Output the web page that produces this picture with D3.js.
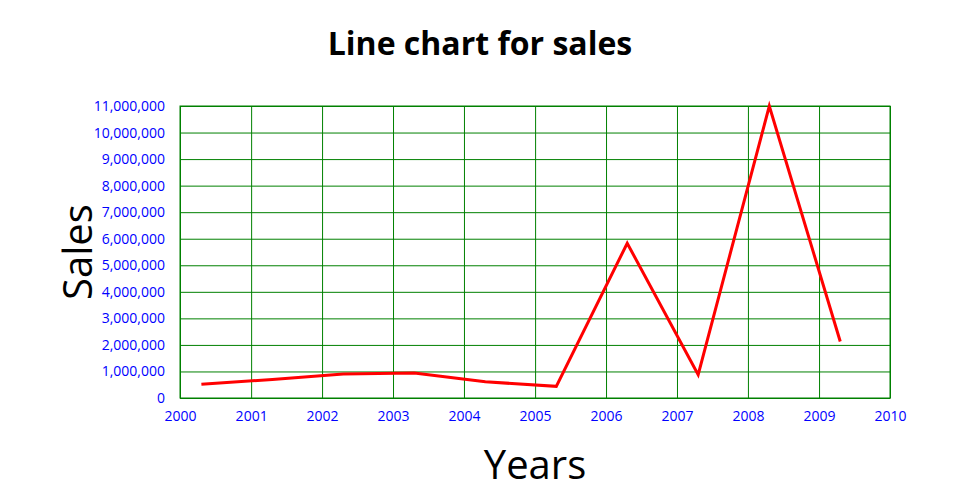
<!DOCTYPE html>
<html>
<head>
<meta charset="utf-8">
<script src="https://cdn.jsdelivr.net/npm/d3@7"></script>
<style>
  body { margin: 0; background: #fff; }
  svg { font-family: "Open Sans", sans-serif; }
</style>
</head>
<body>
<svg id="chart" width="960" height="500"></svg>
<script>
const dates = ["2000-04-20","2001-04-20","2002-04-20","2003-04-20","2004-04-20","2005-04-20","2006-04-20","2007-04-20","2008-04-20","2009-04-20"];
const sales = [520000, 700000, 900000, 940000, 610000, 440000, 5830000, 880000, 11000000, 2130000];
const xDomain = ["2000-01-01", "2010-01-01"];
const yMax = 11000000;
const title = "Line chart for sales";
const xLabel = "Years";
const yLabel = "Sales";

const parse = d3.timeParse("%Y-%m-%d");
const data = dates.map((d, i) => ({ date: parse(d), value: sales[i] }));

const svg = d3.select("#chart");
const margin = { top: 106, right: 70, bottom: 102, left: 180 };
const W = 960, H = 500;
const w = W - margin.left - margin.right;
const h = H - margin.top - margin.bottom;

const g = svg.append("g").attr("transform", `translate(${margin.left},${margin.top})`);

const x = d3.scaleTime().domain(xDomain.map(parse)).range([0, w]);
const y = d3.scaleLinear().domain([0, yMax]).range([h, 0]);

const xAxis = g.append("g")
  .attr("transform", `translate(0,${h})`)
  .call(d3.axisBottom(x).ticks(d3.timeYear.every(1)).tickFormat(d3.timeFormat("%Y")).tickSize(-h).tickSizeOuter(0).tickPadding(13));
const yAxis = g.append("g")
  .call(d3.axisLeft(y).ticks(11).tickFormat(d3.format(",")).tickSize(-w).tickSizeOuter(0).tickPadding(15));

[xAxis, yAxis].forEach(a => {
  a.selectAll("line").attr("stroke", "green").attr("stroke-width", 1);
  a.select(".domain").attr("stroke", "green");
  a.selectAll("text").attr("fill", "blue").style("font-size", "14px").style("font-family", "'Open Sans', sans-serif");
});

g.append("rect").attr("x", 0).attr("y", 0).attr("width", w).attr("height", h)
  .attr("fill", "none").attr("stroke", "green").attr("stroke-width", 1);

const line = d3.line().x(d => x(d.date)).y(d => y(d.value));
g.append("path").datum(data)
  .attr("d", line)
  .attr("fill", "none")
  .attr("stroke", "red")
  .attr("stroke-width", 3);

svg.append("text").attr("x", 480).attr("y", 55)
  .attr("text-anchor", "middle")
  .style("font-size", "32px").style("font-weight", "bold")
  .text(title);

svg.append("text").attr("x", margin.left + w / 2).attr("y", 479)
  .attr("text-anchor", "middle")
  .style("font-size", "40px")
  .text(xLabel);

svg.append("text")
  .attr("transform", `translate(92,${margin.top + h / 2}) rotate(-90)`)
  .attr("text-anchor", "middle")
  .style("font-size", "40px")
  .text(yLabel);
</script>
</body>
</html>
